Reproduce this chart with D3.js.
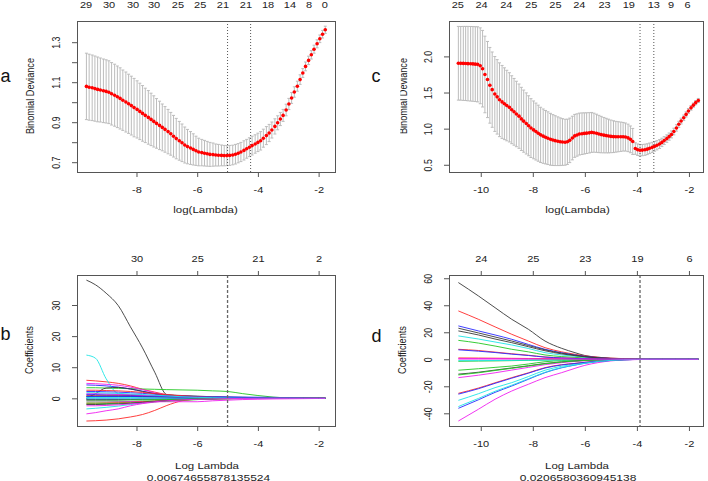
<!DOCTYPE html>
<html><head><meta charset="utf-8">
<script src="https://cdn.jsdelivr.net/npm/d3@7"></script>
<style>body{margin:0;background:#fff}svg{display:block}text{font-family:"Liberation Sans",Arial,sans-serif}</style>
</head><body><svg id="chart" width="708" height="481"></svg>
<script>
// ---------- Panel a : cross-validation curve ----------
const logLambdaA = [-9.65,-9.56,-9.46,-9.37,-9.28,-9.19,-9.09,-9.00,-8.91,-8.82,-8.72,-8.63,-8.54,-8.45,-8.35,-8.26,-8.17,-8.08,-7.98,-7.89,-7.80,-7.71,-7.61,-7.52,-7.43,-7.34,-7.24,-7.15,-7.06,-6.96,-6.87,-6.78,-6.69,-6.59,-6.50,-6.41,-6.32,-6.22,-6.13,-6.04,-5.95,-5.85,-5.76,-5.67,-5.58,-5.48,-5.39,-5.30,-5.20,-5.11,-5.02,-4.93,-4.83,-4.74,-4.65,-4.56,-4.46,-4.37,-4.28,-4.19,-4.09,-4.00,-3.91,-3.82,-3.72,-3.63,-3.54,-3.44,-3.35,-3.26,-3.17,-3.07,-2.98,-2.89,-2.80,-2.70,-2.61,-2.52,-2.43,-2.33,-2.24,-2.15,-2.05,-1.96,-1.87,-1.78];
const cvMeanA = [1.079,1.075,1.072,1.068,1.064,1.061,1.057,1.054,1.050,1.042,1.035,1.027,1.019,1.010,1.001,0.992,0.983,0.973,0.964,0.954,0.944,0.934,0.924,0.914,0.904,0.894,0.884,0.874,0.864,0.853,0.842,0.830,0.818,0.807,0.797,0.786,0.778,0.771,0.764,0.757,0.751,0.748,0.745,0.742,0.739,0.738,0.736,0.735,0.734,0.733,0.733,0.734,0.736,0.740,0.745,0.751,0.759,0.767,0.775,0.783,0.791,0.799,0.807,0.820,0.833,0.846,0.861,0.879,0.897,0.916,0.934,0.961,0.991,1.021,1.051,1.080,1.113,1.146,1.179,1.209,1.237,1.265,1.292,1.317,1.340,1.362];
const cvSeA = [0.166,0.165,0.164,0.163,0.162,0.160,0.159,0.158,0.157,0.156,0.155,0.154,0.153,0.151,0.150,0.148,0.147,0.146,0.143,0.141,0.139,0.136,0.134,0.131,0.128,0.124,0.121,0.117,0.114,0.111,0.107,0.104,0.101,0.097,0.094,0.090,0.086,0.082,0.078,0.073,0.069,0.066,0.064,0.062,0.060,0.058,0.055,0.054,0.052,0.051,0.050,0.050,0.049,0.049,0.048,0.048,0.048,0.047,0.047,0.047,0.046,0.046,0.046,0.045,0.045,0.043,0.040,0.038,0.035,0.033,0.030,0.029,0.028,0.027,0.026,0.025,0.024,0.022,0.022,0.021,0.021,0.020,0.020,0.019,0.019,0.018];
const topPosA = [-9.68,-8.92,-8.13,-7.44,-6.65,-5.92,-5.17,-4.41,-3.68,-2.96,-2.33,-1.81];
const topLabA = ["29","30","30","30","25","25","21","21","18","14","8","0"];
const cutLinesA = [-5.0,-4.24];
const xTicksAB = [-8,-6,-4,-2];
const yTicksA = [0.7,0.8,0.9,1.0,1.1,1.2,1.3];
const yTickLabA = ["0.7","","0.9","","1.1","","1.3"];

// ---------- Panel c : cross-validation curve ----------
const logLambdaC = [-10.86,-10.77,-10.67,-10.58,-10.49,-10.39,-10.30,-10.21,-10.12,-10.02,-9.93,-9.84,-9.74,-9.65,-9.56,-9.46,-9.37,-9.28,-9.18,-9.09,-9.00,-8.90,-8.81,-8.72,-8.63,-8.53,-8.44,-8.35,-8.25,-8.16,-8.07,-7.97,-7.88,-7.79,-7.70,-7.60,-7.51,-7.42,-7.32,-7.23,-7.14,-7.04,-6.95,-6.86,-6.76,-6.67,-6.58,-6.48,-6.39,-6.30,-6.21,-6.11,-6.02,-5.93,-5.83,-5.74,-5.65,-5.55,-5.46,-5.37,-5.27,-5.18,-5.09,-5.00,-4.90,-4.81,-4.72,-4.62,-4.53,-4.44,-4.34,-4.25,-4.16,-4.06,-3.97,-3.88,-3.79,-3.69,-3.60,-3.51,-3.41,-3.32,-3.23,-3.13,-3.04,-2.95,-2.85,-2.76,-2.67,-2.58,-2.48,-2.39,-2.30,-2.20,-2.11,-2.02,-1.92,-1.83,-1.74,-1.64];
const cvMeanC = [1.905,1.904,1.903,1.902,1.900,1.898,1.896,1.893,1.890,1.870,1.830,1.750,1.680,1.600,1.540,1.480,1.440,1.400,1.370,1.345,1.320,1.295,1.262,1.233,1.203,1.173,1.135,1.104,1.072,1.040,1.008,0.983,0.960,0.937,0.914,0.896,0.882,0.868,0.853,0.842,0.834,0.826,0.819,0.815,0.812,0.818,0.838,0.870,0.900,0.912,0.925,0.930,0.934,0.938,0.942,0.948,0.944,0.936,0.926,0.918,0.910,0.904,0.898,0.893,0.889,0.888,0.888,0.888,0.888,0.884,0.872,0.852,0.823,0.725,0.708,0.702,0.703,0.708,0.716,0.728,0.741,0.755,0.770,0.787,0.810,0.835,0.862,0.890,0.920,0.960,1.010,1.060,1.105,1.150,1.197,1.245,1.288,1.325,1.360,1.390];
const cvSeC = [0.510,0.510,0.512,0.513,0.515,0.516,0.517,0.518,0.520,0.525,0.530,0.530,0.527,0.524,0.521,0.518,0.515,0.511,0.505,0.497,0.488,0.479,0.470,0.462,0.453,0.445,0.437,0.430,0.423,0.415,0.407,0.400,0.394,0.388,0.382,0.376,0.370,0.365,0.359,0.352,0.345,0.337,0.330,0.323,0.318,0.313,0.308,0.302,0.297,0.293,0.290,0.288,0.285,0.282,0.279,0.276,0.270,0.264,0.258,0.252,0.245,0.239,0.233,0.226,0.220,0.213,0.208,0.203,0.198,0.194,0.190,0.185,0.180,0.080,0.080,0.079,0.078,0.077,0.075,0.073,0.070,0.067,0.064,0.061,0.058,0.055,0.052,0.050,0.048,0.046,0.044,0.042,0.040,0.038,0.036,0.034,0.032,0.030,0.029,0.028];
const topPosC = [-10.90,-9.99,-9.04,-8.08,-7.15,-6.23,-5.26,-4.33,-3.37,-2.71,-2.07];
const topLabC = ["25","24","24","25","25","24","23","19","13","9","6"];
const cutLinesC = [-3.88,-3.35];
const xTicksCD = [-10,-8,-6,-4,-2];
const yTicksC = [0.5,1.0,1.5,2.0];
const yTickLabC = ["0.5","1.0","1.5","2.0"];

// ---------- Panel b : coefficient paths ----------
const knotsB = [-9.65,-9.35,-9.0,-8.6,-8.2,-7.8,-7.4,-7.0,-6.5,-6.0,-5.5,-5.0,-4.5,-4.0,-3.5,-3.0,-2.5,-2.0,-1.78];
const coefB = [
 [38.0,36.5,33.8,29.8,23.0,16.2,8.4,1.2,0.9,0.7,0.5,0.4,0.3,0.2,0.1,0,0,0,0],
 [5.8,5.6,5.3,4.8,4.0,2.9,2.0,1.2,0.8,0.5,0.3,0.2,0.1,0,0,0,0,0,0],
 [3.4,3.4,3.3,3.2,3.1,3.0,2.9,2.8,2.7,2.6,2.4,2.2,1.5,0.9,0.4,0.1,0,0,0],
 [4.3,4.2,4.0,3.6,3.0,2.3,1.5,0.8,0.4,0.2,0.1,0,0,0,0,0,0,0,0],
 [13.9,12.9,6.3,1.5,1.1,0.9,0.7,0.5,0.3,0.2,0.1,0,0,0,0,0,0,0,0],
 [4.8,4.7,4.5,4.2,3.6,2.8,1.8,1.0,0.5,0.2,0,0,0,0,0,0,0,0,0],
 [0.0,1.5,3.3,3.5,3.0,2.2,1.5,1.0,0.5,0.2,0,0,0,0,0,0,0,0,0],
 [1.0,1.0,1.0,1.0,0.9,0.9,0.8,0.7,0.6,0.5,0.4,0.3,0.2,0.1,0,0,0,0,0],
 [-1.2,-1.2,-1.2,-1.1,-1.0,-0.9,-0.8,-0.7,-0.5,-0.4,-0.3,-0.2,-0.1,0,0,0,0,0,0],
 [1.2,1.2,1.1,1.1,1.0,1.0,0.9,0.8,0.7,0.6,0.5,0.45,0.4,0.35,0.3,0.2,0.1,0,0],
 [-3.4,-3.2,-2.9,-2.5,-2.0,-1.5,-1.0,-0.6,-0.3,-0.2,-0.1,0,0,0,0,0,0,0,0],
 [-5.0,-4.6,-4.0,-3.4,-2.4,-1.7,-1.2,-0.8,-0.5,-0.3,-0.2,-0.1,0,0,0,0,0,0,0],
 [-0.4,-0.4,-0.4,-0.4,-0.4,-0.3,-0.3,-0.2,-0.2,-0.1,-0.1,0,0,0,0,0,0,0,0],
 [-7.3,-7.2,-7.0,-6.6,-6.0,-5.2,-3.9,-2.3,-0.8,-0.3,-0.1,0,0,0,0,0,0,0,0],
 [0.5,0.5,0.5,0.5,0.5,0.5,0.5,0.4,0.4,0.3,0.3,0.2,0.2,0.1,0.1,0,0,0,0],
 [2.2,2.2,2.1,2.0,1.8,1.6,1.3,1.0,0.7,0.5,0.3,0.2,0.1,0,0,0,0,0,0],
 [0.3,0.3,0.3,0.3,0.3,0.4,0.4,0.4,0.4,0.3,0.3,0.2,0.2,0.1,0,0,0,0,0],
 [-0.8,-0.8,-0.8,-0.9,-1.0,-1.1,-1.1,-1.1,-1.1,-1.1,-0.8,-0.6,-0.4,-0.3,-0.2,-0.15,-0.1,-0.05,0],
 [0.7,0.7,0.7,0.7,0.6,0.6,0.5,0.4,0.3,0.2,0.1,0,0,0,0,0,0,0,0],
 [-1.6,-1.6,-1.5,-1.4,-1.3,-1.1,-0.9,-0.7,-0.5,-0.3,-0.2,-0.1,0,0,0,0,0,0,0],
 [-1.8,-1.8,-1.7,-1.6,-1.5,-1.3,-1.1,-0.9,-0.6,-0.4,-0.2,-0.1,0,0,0,0,0,0,0],
 [-0.2,-0.2,-0.2,-0.2,-0.2,-0.2,-0.2,-0.2,-0.1,-0.1,-0.1,0,0,0,0,0,0,0,0],
 [0.1,0.1,0.1,0.1,0.1,0.1,0.1,0.1,0.1,0.1,0.1,0.1,0.1,0.05,0.05,0.05,0,0,0],
 [1.5,1.5,1.4,1.3,1.2,1.0,0.8,0.6,0.4,0.3,0.2,0.1,0,0,0,0,0,0,0],
 [-2.0,-2.0,-1.9,-1.8,-1.6,-1.3,-1.0,-0.7,-0.4,-0.2,-0.1,0,0,0,0,0,0,0,0],
 [2.6,2.6,2.5,2.4,2.2,1.9,1.5,1.1,0.8,0.5,0.3,0.2,0.1,0,0,0,0,0,0],
 [-0.6,-0.6,-0.6,-0.6,-0.5,-0.5,-0.4,-0.4,-0.3,-0.2,-0.1,0,0,0,0,0,0,0,0],
 [0.6,0.6,0.6,0.6,0.6,0.5,0.5,0.5,0.4,0.4,0.3,0.3,0.2,0.2,0.1,0.1,0.05,0,0],
 [1.8,1.8,1.7,1.6,1.4,1.2,1.0,0.8,0.5,0.3,0.2,0.1,0,0,0,0,0,0,0],
 [-2.4,-2.4,-2.3,-2.1,-1.8,-1.5,-1.1,-0.8,-0.5,-0.3,-0.2,-0.1,-0.05,0,0,0,0,0,0]
];
const topPosB = [-8,-6,-4,-2];
const topLabB = ["30","25","21","2"];
const cutLineB = -5.0;
const yTicksB = [0,10,20,30];
const lambdaTextB = "0.00674655878135524";

// ---------- Panel d : coefficient paths ----------
const knotsD = [-10.86,-10.09,-9.45,-8.81,-8.17,-7.53,-6.89,-6.38,-6.0,-5.5,-5.0,-4.5,-4.0,-3.5,-3.0,-2.5,-2.0,-1.64];
const coefD = [
 [56.8,46.9,38.2,29.6,22.2,13.5,8.1,4.9,2.8,1.5,0.8,0.4,0.2,0.1,0,0,0,0],
 [35.8,29.6,24.0,18.5,13.5,8.6,5.5,3.7,2.5,1.5,0.8,0.5,0.3,0.2,0.1,0.1,0,0],
 [14.0,12.0,9.8,7.4,5.5,3.2,2.0,1.4,1.0,0.6,0.4,0.3,0.2,0.1,0.1,0.05,0.02,0],
 [24.7,21.0,18.0,14.8,11.0,7.4,4.8,3.2,2.2,1.2,0.6,0.3,0.1,0,0,0,0,0],
 [17.3,15.0,12.8,10.6,8.0,4.9,3.2,2.2,1.5,0.8,0.4,0.2,0.1,0,0,0,0,0],
 [-45.7,-37.0,-29.6,-23.5,-18.5,-13.6,-9.9,-6.7,-4.5,-2.5,-1.2,-0.5,-0.2,0,0,0,0,0],
 [23.0,19.5,16.5,13.5,10.2,7.0,4.5,3.0,2.0,1.1,0.5,0.2,0.1,0,0,0,0,0],
 [7.4,6.5,5.3,4.1,3.0,1.7,1.0,0.7,0.5,0.3,0.2,0.1,0.1,0.05,0.05,0.02,0,0],
 [-8.1,-7.0,-6.0,-5.0,-3.5,-1.8,-1.0,-0.6,-0.4,-0.2,-0.1,0,0,0,0,0,0,0],
 [-36.3,-30.0,-24.5,-19.8,-14.8,-9.9,-6.3,-4.3,-3.0,-1.7,-0.9,-0.4,-0.1,0,0,0,0,0],
 [-30.4,-25.5,-21.0,-17.3,-12.8,-8.1,-5.2,-3.6,-2.6,-1.5,-0.8,-0.3,-0.1,0,0,0,0,0],
 [0.2,0.2,0.2,0.2,0.1,0.1,0.1,0.1,0,0,0,0,0,0,0,0,0,0],
 [21.0,18.0,15.0,12.3,9.3,6.3,4.0,2.7,1.8,1.0,0.5,0.2,0,0,0,0,0,0],
 [-25.2,-21.3,-17.4,-13.6,-10.0,-6.2,-4.0,-3.0,-2.2,-1.3,-0.7,-0.3,-0.1,0,0,0,0,0],
 [-1.5,-1.3,-1.2,-1.0,-0.8,-0.6,-0.4,-0.3,-0.2,-0.1,0,0,0,0,0,0,0,0],
 [-25.8,-21.8,-17.8,-14.0,-10.3,-6.5,-4.2,-3.1,-2.3,-1.4,-0.7,-0.3,-0.1,0,0,0,0,0],
 [-1.0,-1.0,-0.9,-0.8,-0.7,-0.6,-0.5,-0.4,-0.3,-0.2,-0.1,0,0,0,0,0,0,0],
 [-13.6,-11.8,-10.0,-8.0,-6.0,-4.0,-2.5,-1.6,-1.1,-0.6,-0.3,-0.1,0,0,0,0,0,0],
 [-11.0,-9.6,-8.0,-6.4,-4.8,-3.1,-1.9,-1.2,-0.8,-0.4,-0.2,0,0,0,0,0,0,0],
 [1.0,0.9,0.8,0.7,0.6,0.5,0.4,0.3,0.2,0.1,0.1,0.05,0,0,0,0,0,0],
 [-11.6,-10.0,-8.3,-6.7,-5.0,-3.3,-2.0,-1.3,-0.9,-0.5,-0.2,-0.1,0,0,0,0,0,0],
 [7.0,6.0,5.0,3.8,2.8,1.6,1.0,0.6,0.4,0.2,0.1,0,0,0,0,0,0,0],
 [-35.0,-29.0,-23.7,-19.2,-14.4,-9.6,-6.1,-4.2,-2.9,-1.6,-0.8,-0.3,-0.1,0,0,0,0,0],
 [0.5,0.5,0.5,0.4,0.4,0.3,0.3,0.2,0.2,0.1,0.1,0.1,0.05,0.05,0.05,0.05,0.02,0]
];
const topPosD = [-10,-8,-6,-4,-2];
const topLabD = ["24","25","23","19","6"];
const cutLineD = -3.88;
const yTicksD = [-40,-20,0,20,40,60];
const lambdaTextD = "0.0206580360945138";

const palette = ["#3a3a3a","#ff2a2a","#22c822","#2a2aff","#1ee6e6","#f020f0"];

// ---------- drawing ----------
const svg = d3.select("#chart");
const FONT = "'Liberation Sans', Arial, sans-serif";
const SY = 0.8; // vertical squash of the original picture

function txt(x, y, s, size, rot, anchor) {
  svg.append("text")
    .attr("transform", `translate(${x},${y}) scale(1,${SY})` + (rot ? " rotate(-90)" : ""))
    .attr("text-anchor", anchor || "middle").attr("font-size", size)
    .attr("font-family", FONT).attr("fill", "#222").text(s);
}
function styleAxis(g) {
  g.attr("font-size", 11).attr("font-family", FONT);
  g.select(".domain").remove();
  g.selectAll(".tick line").attr("stroke", "#555");
  g.selectAll(".tick text").attr("fill", "#222");
}
function axes(p) {
  const gb = svg.append("g").attr("transform", `translate(0,${p.y0})`)
    .call(d3.axisBottom(p.x).tickValues(p.xTicks).tickSize(5).tickFormat(d => String(d)));
  styleAxis(gb);
  gb.selectAll(".tick text").attr("y", null).attr("dy", null)
    .attr("transform", `translate(0,20.7) scale(1,${SY})`);
  const gl = svg.append("g").attr("transform", `translate(${p.x0},0)`)
    .call(d3.axisLeft(p.y).tickValues(p.yTicks).tickSize(5).tickFormat((d, i) => p.yLabs[i]));
  styleAxis(gl);
  gl.selectAll(".tick text").attr("x", null).attr("dy", null).attr("text-anchor", "middle")
    .attr("transform", `translate(-17,0) scale(1,${SY}) rotate(-90)`);
  const gt = svg.append("g").attr("transform", `translate(0,${p.y1})`)
    .call(d3.axisTop(p.x).tickValues(p.topPos).tickSize(p.topTick).tickFormat((d, i) => p.topLab[i]));
  styleAxis(gt);
  gt.selectAll(".tick text").attr("y", null).attr("dy", null)
    .attr("transform", `translate(0,${-p.topOff}) scale(1,${SY})`);
  svg.append("rect").attr("x", p.x0 + 0.5).attr("y", p.y1 + 0.5)
    .attr("width", p.x1 - p.x0).attr("height", p.y0 - p.y1)
    .attr("fill", "none").attr("stroke", "#555").attr("stroke-width", 1);
}

function cvPanel(p) {
  const x = d3.scaleLinear().domain(p.xDom).range([p.x0, p.x1]);
  const y = d3.scaleLinear().domain(p.yDom).range([p.y0, p.y1]);
  const data = p.lam.map((l, i) => ({l, m: p.mean[i], s: p.se[i]}));
  const g = svg.append("g");
  const bars = g.selectAll("g.eb").data(data).join("g").attr("stroke", "#bcbcbc").attr("stroke-width", 1);
  bars.append("line").attr("x1", d => x(d.l)).attr("x2", d => x(d.l))
    .attr("y1", d => y(d.m - d.s)).attr("y2", d => y(d.m + d.s));
  bars.append("line").attr("x1", d => x(d.l) - 1.5).attr("x2", d => x(d.l) + 1.5)
    .attr("y1", d => y(d.m + d.s)).attr("y2", d => y(d.m + d.s));
  bars.append("line").attr("x1", d => x(d.l) - 1.5).attr("x2", d => x(d.l) + 1.5)
    .attr("y1", d => y(d.m - d.s)).attr("y2", d => y(d.m - d.s));
  g.selectAll("line.cut").data(p.cuts).join("line")
    .attr("x1", d => x(d)).attr("x2", d => x(d)).attr("y1", p.y1).attr("y2", p.y0)
    .attr("stroke", "#555").attr("stroke-width", 1).attr("stroke-dasharray", "1,2");
  g.selectAll("circle").data(data).join("circle")
    .attr("cx", d => x(d.l)).attr("cy", d => y(d.m)).attr("r", 1.8).attr("fill", "#ff0000");
  axes(Object.assign({x, y}, p));
}

function coefPanel(p) {
  const x = d3.scaleLinear().domain(p.xDom).range([p.x0, p.x1]);
  const y = d3.scaleLinear().domain(p.yDom).range([p.y0, p.y1]);
  const line = d3.line().x((d, i) => x(p.knots[i])).y(d => y(d)).curve(d3.curveMonotoneX);
  svg.append("g").selectAll("path").data(p.coefs).join("path")
    .attr("d", line).attr("fill", "none").attr("stroke-width", 1)
    .attr("stroke", (d, i) => palette[i % 6]).attr("stroke-opacity", 0.9);
  svg.append("line").attr("x1", x(p.cut)).attr("x2", x(p.cut)).attr("y1", p.y1).attr("y2", p.y0)
    .attr("stroke", "#666").attr("stroke-width", 1.3).attr("stroke-dasharray", "3,2");
  axes(Object.assign({x, y}, p));
}

// Panel a
cvPanel({lam: logLambdaA, mean: cvMeanA, se: cvSeA, cuts: cutLinesA,
  xDom: [-9.96, -1.46], yDom: [0.651, 1.406], x0: 77, x1: 335, y0: 172, y1: 21,
  xTicks: xTicksAB, yTicks: yTicksA, yLabs: yTickLabA, topPos: topPosA, topLab: topLabA, topTick: 0, topOff: 12.7});
// Panel c
cvPanel({lam: logLambdaC, mean: cvMeanC, se: cvSeC, cuts: cutLinesC,
  xDom: [-11.22, -1.46], yDom: [0.40, 2.49], x0: 449, x1: 703, y0: 172, y1: 21,
  xTicks: xTicksCD, yTicks: yTicksC, yLabs: yTickLabC, topPos: topPosC, topLab: topLabC, topTick: 0, topOff: 12.7});
// Panel b
coefPanel({knots: knotsB, coefs: coefB, cut: cutLineB,
  xDom: [-9.96, -1.46], yDom: [-8.9, 39.65], x0: 77, x1: 335, y0: 426, y1: 275,
  xTicks: xTicksAB, yTicks: yTicksB, yLabs: yTicksB.map(String), topPos: topPosB, topLab: topLabB, topTick: 4, topOff: 12.7});
// Panel d
coefPanel({knots: knotsD, coefs: coefD, cut: cutLineD,
  xDom: [-11.22, -1.46], yDom: [-49.4, 62.4], x0: 449, x1: 703, y0: 426, y1: 275,
  xTicks: xTicksCD, yTicks: yTicksD, yLabs: yTicksD.map(String), topPos: topPosD, topLab: topLabD, topTick: 4, topOff: 12.7});

// titles
txt(205.5, 213, "log(Lambda)", 11.5);
txt(577.5, 213, "log(Lambda)", 11.5);
txt(34, 96, "Binomial Deviance", 11.5, true);
txt(406.7, 96, "Binomial Deviance", 11.5, true);
svg.append("rect").attr("x", 382).attr("y", 40).attr("width", 18.3).attr("height", 110).attr("fill", "#fff");
txt(207, 469, "Log Lambda", 11.5);
txt(208.5, 480.5, lambdaTextB, 12);
txt(577, 469, "Log Lambda", 11.5);
txt(578, 480.5, lambdaTextD, 12);
txt(33.3, 350, "Coefficients", 11.5, true);
txt(406, 350, "Coefficients", 11.5, true);

// panel letters
const letter = (x, y, s) => svg.append("text").attr("x", x).attr("y", y).attr("font-size", 18)
  .attr("font-family", FONT).attr("fill", "#111").text(s);
letter(0.5, 81.7, "a");
letter(371.5, 82, "c");
letter(0.5, 340, "b");
letter(371.5, 342, "d");
</script>
</body></html>
